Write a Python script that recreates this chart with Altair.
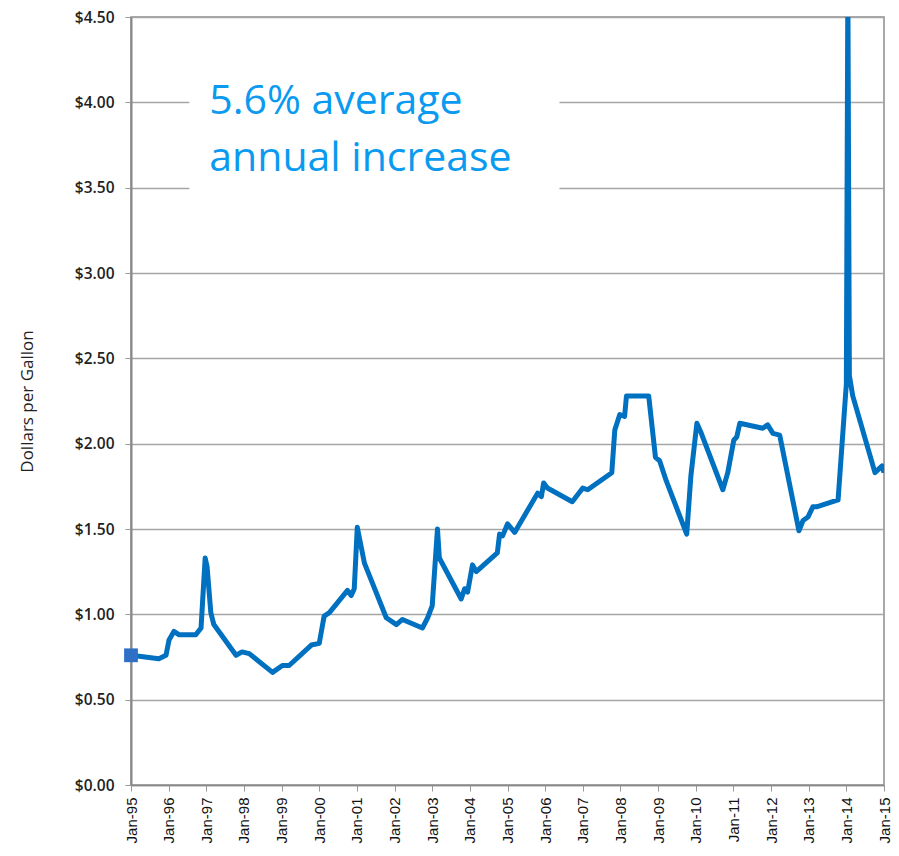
import altair as alt
import pandas as pd

# decimal year and price ($/gal)
years = [1995.00, 1995.74, 1995.93, 1996.01, 1996.14, 1996.28, 1996.72, 1996.86, 1996.97, 1997.02,
         1997.12, 1997.20, 1997.79, 1997.95, 1998.14, 1998.76, 1999.02, 1999.20, 1999.79, 2000.00,
         2000.13, 2000.27, 2000.75, 2000.85, 2000.93, 2001.01, 2001.20, 2001.78, 2002.05, 2002.21,
         2002.74, 2002.88, 2003.00, 2003.14, 2003.19, 2003.77, 2003.86, 2003.94, 2004.07, 2004.17,
         2004.73, 2004.79, 2004.87, 2005.00, 2005.19, 2005.80, 2005.90, 2005.96, 2006.06, 2006.72,
         2007.00, 2007.13, 2007.77, 2007.85, 2007.98, 2008.11, 2008.16, 2008.75, 2008.93, 2009.04,
         2009.22, 2009.76, 2009.87, 2010.03, 2010.13, 2010.72, 2010.85, 2011.01, 2011.09, 2011.17,
         2011.78, 2011.91, 2012.05, 2012.23, 2012.74, 2012.85, 2012.98, 2013.11, 2013.21, 2013.78,
         2013.88, 2014.00, 2014.04, 2014.08, 2014.17, 2014.76, 2014.95, 2015.00]
prices = [0.76, 0.74, 0.76, 0.85, 0.90, 0.88, 0.88, 0.92, 1.33, 1.28,
          1.01, 0.94, 0.76, 0.78, 0.77, 0.66, 0.70, 0.70, 0.82, 0.83,
          0.99, 1.01, 1.14, 1.11, 1.15, 1.51, 1.30, 0.98, 0.94, 0.97,
          0.92, 0.98, 1.05, 1.50, 1.33, 1.09, 1.15, 1.13, 1.29, 1.25,
          1.36, 1.47, 1.46, 1.53, 1.48, 1.71, 1.69, 1.77, 1.74, 1.66,
          1.74, 1.73, 1.83, 2.08, 2.17, 2.16, 2.28, 2.28, 1.92, 1.90,
          1.78, 1.47, 1.81, 2.12, 2.07, 1.73, 1.83, 2.02, 2.04, 2.12,
          2.09, 2.11, 2.06, 2.05, 1.49, 1.55, 1.57, 1.63, 1.63, 1.67,
          1.98, 2.35, 4.70, 2.40, 2.28, 1.83, 1.87, 1.83]

tick_years = list(range(1995, 2016))
y_ticks = [0, 0.5, 1.0, 1.5, 2.0, 2.5, 3.0, 3.5, 4.0, 4.5]
annotation_lines = ["5.6% average", "annual increase"]

df = pd.DataFrame({"year": years, "price": prices})
start = df.iloc[[0]]
box = pd.DataFrame({"year": [1996.55], "x2": [2006.38], "price": [3.43], "y2": [4.22]})
ann = pd.DataFrame({"year": [1997.08], "price": [3.93], "text": [annotation_lines]})

FONT = "Open Sans"

xscale = alt.Scale(domain=[1995, 2015], nice=False, zero=False)
yscale = alt.Scale(domain=[0, 4.5], nice=False)

xaxis = alt.Axis(values=tick_years, labelExpr="'Jan-' + slice(toString(datum.value), 2)",
                 labelAngle=270, labelFontSize=15, labelFont="Liberation Sans", labelColor="#111",
                 labelOverlap=False, labelBound=False, labelFlush=False,
                 grid=False, tickSize=6, tickColor="#999", domainColor="#888", domainWidth=1.5,
                 labelPadding=6, title=None)
yaxis = alt.Axis(values=y_ticks, format="$.2f", labelFontSize=15.5, labelFont=FONT,
                 labelFontWeight=600, labelColor="#222", grid=True, gridColor="#a6a6a6", gridWidth=1.3,
                 tickSize=6, tickColor="#999", domainColor="#888", domainWidth=2,
                 labelPadding=11, title="Dollars per Gallon", titleFont=FONT,
                 titleFontSize=17, titleFontWeight="normal", titleColor="#222", titlePadding=38)

X = alt.X("year:Q", scale=xscale, axis=xaxis)
Y = alt.Y("price:Q", scale=yscale, axis=yaxis)

line = alt.Chart(df).mark_line(color="#0070c0", strokeWidth=5, clip=True, strokeJoin="round").encode(
    x=X, y=Y,
)

marker = alt.Chart(start).mark_point(shape="square", filled=True, color="#2f6fc5", size=190, opacity=1).encode(
    x=X, y=Y,
)

rect = alt.Chart(box).mark_rect(color="white").encode(
    x=X, x2="x2:Q", y=Y, y2="y2:Q",
)

text = alt.Chart(ann).mark_text(align="left", baseline="alphabetic", font=FONT, fontSize=41,
                                color="#0a9af0", lineHeight=57).encode(
    x=X, y=Y, text="text",
)

chart = alt.layer(rect, line, marker, text).properties(
    width=753, height=768,
    autosize=alt.AutoSizeParams(type="none"),
    padding={"left": 123, "top": 9, "right": 7, "bottom": 60},
).configure_view(stroke="#8c8c8c", strokeWidth=1.5)

chart.save("out.html", embed_options={"renderer": "svg", "actions": False})
